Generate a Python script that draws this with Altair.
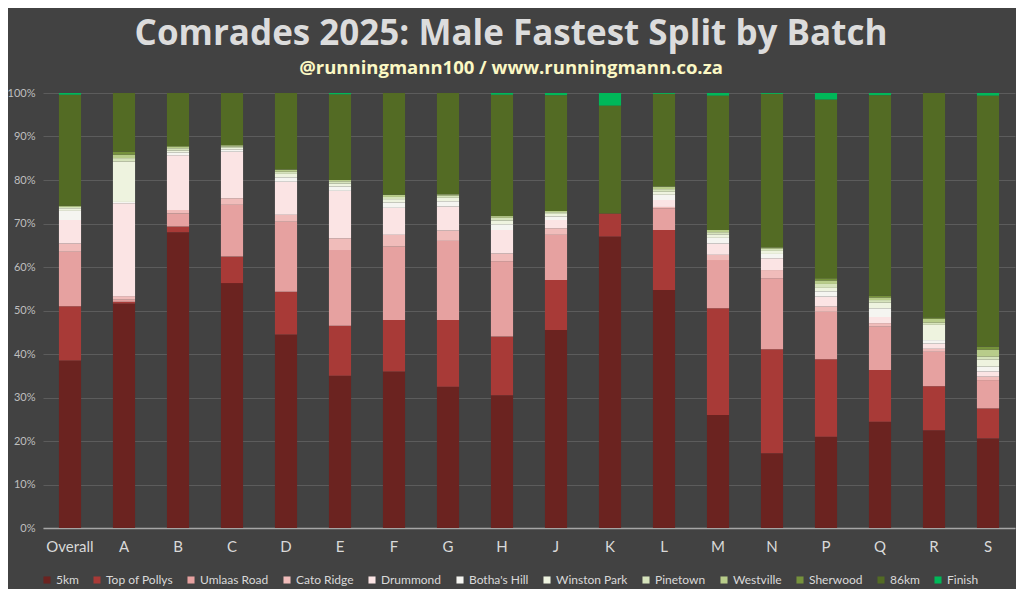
import altair as alt
import pandas as pd

batches = ["Overall", "A", "B", "C", "D", "E", "F", "G", "H", "J", "K", "L", "M", "N", "P", "Q", "R", "S"]
splits = ["5km", "Top of Pollys", "Umlaas Road", "Cato Ridge", "Drummond", "Botha's Hill",
          "Winston Park", "Pinetown", "Westville", "Sherwood", "86km", "Finish"]
colors = ["#6b2320", "#a83a37", "#e6a1a0", "#f0bcba", "#fbe4e4", "#f5f5f1",
          "#eef3df", "#d6e3bc", "#b8cc8a", "#76923c", "#536b24", "#00b859"]

km5 = [38.5, 51.7, 68.0, 56.3, 44.5, 35.0, 36.0, 32.5, 30.5, 45.5, 67.0, 54.7, 26.0, 17.2, 21.0, 24.4, 22.5, 20.6]
pollys = [12.5, 0.4, 1.3, 6.1, 9.8, 11.5, 11.8, 15.3, 13.5, 11.5, 5.3, 13.8, 24.5, 23.9, 17.8, 11.9, 10.1, 6.9]
umlaas = [12.5, 0.5, 3.0, 11.9, 16.1, 17.4, 16.9, 18.2, 17.3, 10.4, 0.0, 5.0, 11.1, 16.3, 10.9, 10.0, 7.9, 6.5]
cato = [1.9, 0.8, 0.8, 1.5, 1.6, 2.7, 2.7, 2.4, 1.8, 1.5, 0.0, 0.3, 1.2, 1.9, 1.2, 0.8, 0.7, 0.8]
drummond = [5.4, 21.4, 12.6, 10.7, 7.6, 10.9, 6.2, 5.5, 5.4, 1.9, 0.0, 1.6, 2.6, 2.7, 2.3, 1.4, 1.2, 1.2]
botha = [2.1, 0.3, 0.6, 0.5, 1.0, 1.0, 1.2, 1.2, 1.3, 0.8, 0.0, 1.2, 1.3, 1.0, 1.2, 2.0, 0.8, 1.1]
winston = [0.6, 9.3, 0.5, 0.4, 0.8, 0.7, 0.8, 0.8, 0.9, 0.6, 0.0, 0.7, 0.8, 0.7, 0.8, 1.3, 3.5, 1.6]
pinetown = [0.3, 0.8, 0.5, 0.3, 0.5, 0.5, 0.5, 0.5, 0.6, 0.4, 0.0, 0.6, 0.5, 0.5, 0.9, 0.6, 0.5, 0.7]
westville = [0.2, 0.8, 0.4, 0.3, 0.5, 0.3, 0.5, 0.3, 0.4, 0.3, 0.0, 0.6, 0.5, 0.3, 0.8, 0.6, 0.9, 1.6]
sherwood = [0.1, 0.7, 0.1, 0.0, 0.0, 0.0, 0.0, 0.0, 0.0, 0.0, 0.0, 0.0, 0.0, 0.0, 0.5, 0.4, 0.3, 0.7]
km86 = [25.5, 13.5, 12.2, 12.0, 17.6, 19.7, 23.4, 23.3, 27.9, 26.6, 24.8, 21.3, 30.9, 35.3, 41.1, 46.1, 51.6, 57.7]
finish = [0.4, 0.0, 0.0, 0.0, 0.0, 0.3, 0.0, 0.0, 0.4, 0.5, 2.9, 0.2, 0.6, 0.2, 1.5, 0.5, 0.0, 0.6]

series = [km5, pollys, umlaas, cato, drummond, botha, winston, pinetown, westville, sherwood, km86, finish]

rows = []
for si, (name, vals) in enumerate(zip(splits, series)):
    for b, v in zip(batches, vals):
        rows.append({"batch": b, "split": name, "ord": si, "share": v})
df = pd.DataFrame(rows)

FONT = "Lato"
TFONT = "Open Sans"

chart = alt.Chart(df).mark_bar().encode(
    x=alt.X("batch:N", sort=batches,
            scale=alt.Scale(paddingInner=0.59, paddingOuter=0.295),
            axis=alt.Axis(title=None, labelAngle=0, labelFontSize=15, labelColor="#d9d9d9",
                          labelPadding=11, domainColor="#a6a6a6", domainWidth=1.5,
                          ticks=False, labelFont=FONT, grid=False)),
    y=alt.Y("share:Q", stack="normalize",
            scale=alt.Scale(domain=[0, 1], nice=False),
            axis=alt.Axis(title=None, format=".0%", values=[i / 10 for i in range(11)],
                          labelFontSize=11, labelColor="#bfbfbf", labelFont=FONT,
                          labelPadding=8, domain=False, ticks=False,
                          gridColor="#5c5c5c", gridWidth=1)),
    color=alt.Color("split:N", sort=splits,
                    scale=alt.Scale(domain=splits, range=colors),
                    legend=alt.Legend(title=None, orient="none", direction="horizontal",
                                      columns=12, legendX=-2, legendY=481,
                                      symbolType="square", symbolSize=50, symbolStrokeWidth=0,
                                      labelFontSize=12, labelColor="#d9d9d9", labelFont=FONT,
                                      columnPadding=12, labelOffset=3)),
    order=alt.Order("ord:Q", sort="ascending"),
).properties(
    width=972, height=435,
    autosize="none",
    padding={"left": 35, "top": 85, "right": 1, "bottom": 61},
    background="#424242",
    title=alt.Title("Comrades 2025: Male Fastest Split by Batch",
                    subtitle="@runningmann100 / www.runningmann.co.za",
                    anchor="middle", dx=-18, offset=10,
                    font=TFONT, fontSize=35, fontWeight="bold", color="#dcdcdc",
                    subtitleFont=TFONT, subtitleFontSize=18.5, subtitleFontWeight="bold",
                    subtitleColor="#fbf8c4", subtitlePadding=7),
).configure_view(stroke=None)

chart.save("out.html", embed_options={"renderer": "svg", "actions": False})
